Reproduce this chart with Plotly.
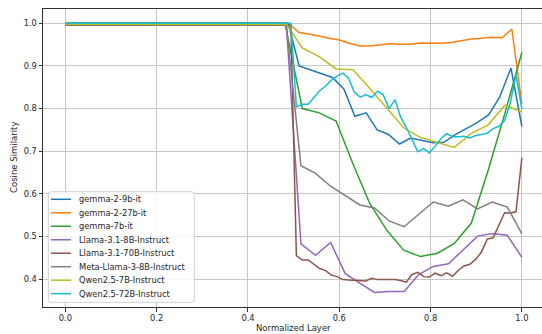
import plotly.graph_objects as go

# ---------------- data ----------------
SERIES_NAMES = [
    "gemma-2-9b-it", "gemma-2-27b-it", "gemma-7b-it", "Llama-3.1-8B-Instruct",
    "Llama-3.1-70B-Instruct", "Meta-Llama-3-8B-Instruct", "Qwen2.5-7B-Instruct",
    "Qwen2.5-72B-Instruct",
]
SERIES_COLORS = ["#1f77b4", "#ff7f0e", "#2ca02c", "#9467bd",
                 "#8c564b", "#7f7f7f", "#bcbd22", "#17becf"]

X_GEMMA2_9B = [0.0, 0.488, 0.512, 0.537, 0.561, 0.585, 0.610, 0.634, 0.659, 0.683,
               0.707, 0.732, 0.756, 0.780, 0.805, 0.829, 0.854, 0.878, 0.902, 0.927,
               0.951, 0.976, 1.0]
Y_GEMMA2_9B = [1.0, 1.0, 0.900, 0.891, 0.882, 0.873, 0.846, 0.782, 0.790, 0.750,
               0.740, 0.717, 0.731, 0.726, 0.720, 0.721, 0.739, 0.753, 0.767, 0.785,
               0.826, 0.895, 0.758]

X_GEMMA2_27B = [0.0, 0.489, 0.511, 0.533, 0.556, 0.578, 0.600, 0.622, 0.644, 0.667,
                0.689, 0.711, 0.733, 0.756, 0.778, 0.800, 0.822, 0.844, 0.867, 0.889,
                0.911, 0.933, 0.956, 0.978, 1.0]
Y_GEMMA2_27B = [1.0, 1.0, 0.979, 0.975, 0.970, 0.965, 0.961, 0.953, 0.947, 0.947,
                0.950, 0.952, 0.951, 0.951, 0.954, 0.953, 0.953, 0.955, 0.960, 0.963,
                0.965, 0.967, 0.966, 0.986, 0.810]

X_GEMMA_7B = [0.0, 0.481, 0.519, 0.556, 0.593, 0.630, 0.667, 0.704, 0.741, 0.778,
              0.815, 0.852, 0.889, 0.926, 0.963, 1.0]
Y_GEMMA_7B = [1.0, 1.0, 0.800, 0.790, 0.771, 0.670, 0.577, 0.515, 0.468, 0.453,
              0.461, 0.484, 0.531, 0.655, 0.790, 0.932]

X_LLAMA31_8B = [0.0, 0.484, 0.516, 0.548, 0.581, 0.613, 0.645, 0.677, 0.710, 0.742,
                0.774, 0.806, 0.839, 0.871, 0.903, 0.935, 0.968, 1.0]
Y_LLAMA31_8B = [0.996, 0.996, 0.483, 0.456, 0.486, 0.413, 0.391, 0.369, 0.371, 0.371,
                0.411, 0.430, 0.436, 0.468, 0.501, 0.507, 0.503, 0.451]

X_LLAMA31_70B = [0.0, 0.494, 0.506, 0.519, 0.532, 0.544, 0.557, 0.570, 0.582, 0.595,
                 0.608, 0.620, 0.633, 0.646, 0.658, 0.671, 0.684, 0.696, 0.709, 0.722,
                 0.734, 0.747, 0.759, 0.772, 0.785, 0.797, 0.810, 0.823, 0.835, 0.848,
                 0.861, 0.873, 0.886, 0.899, 0.911, 0.924, 0.937, 0.949, 0.962, 0.975,
                 0.987, 1.0]
Y_LLAMA31_70B = [0.996, 0.996, 0.455, 0.445, 0.445, 0.436, 0.425, 0.420, 0.410, 0.406,
                 0.399, 0.398, 0.397, 0.396, 0.396, 0.402, 0.399, 0.399, 0.399, 0.399,
                 0.397, 0.393, 0.411, 0.416, 0.406, 0.405, 0.414, 0.408, 0.415, 0.407,
                 0.421, 0.431, 0.435, 0.447, 0.463, 0.494, 0.497, 0.525, 0.556, 0.555,
                 0.558, 0.685]

X_LLAMA3_8B = [0.0, 0.484, 0.516, 0.548, 0.581, 0.613, 0.645, 0.677, 0.710, 0.742,
               0.774, 0.806, 0.839, 0.871, 0.903, 0.935, 0.968, 1.0]
Y_LLAMA3_8B = [0.996, 0.996, 0.666, 0.648, 0.618, 0.597, 0.574, 0.567, 0.536, 0.523,
               0.553, 0.581, 0.571, 0.586, 0.565, 0.581, 0.569, 0.506]

X_QWEN25_7B = [0.0, 0.484, 0.519, 0.556, 0.593, 0.630, 0.667, 0.704, 0.741, 0.778,
               0.815, 0.852, 0.889, 0.926, 0.963, 1.0]
Y_QWEN25_7B = [0.998, 0.998, 0.942, 0.922, 0.893, 0.891, 0.847, 0.800, 0.755, 0.732,
               0.721, 0.709, 0.742, 0.762, 0.808, 0.792]

X_QWEN25_72B = [0.0, 0.494, 0.506, 0.519, 0.532, 0.544, 0.557, 0.570, 0.582, 0.595,
                0.608, 0.620, 0.633, 0.646, 0.658, 0.671, 0.684, 0.696, 0.709, 0.722,
                0.734, 0.747, 0.759, 0.772, 0.785, 0.797, 0.810, 0.823, 0.835, 0.848,
                0.861, 0.873, 0.886, 0.899, 0.911, 0.924, 0.937, 0.949, 0.962, 0.975,
                0.987, 1.0]
Y_QWEN25_72B = [1.0, 1.0, 0.804, 0.810, 0.810, 0.826, 0.842, 0.853, 0.866, 0.876,
                0.883, 0.872, 0.838, 0.827, 0.833, 0.826, 0.841, 0.833, 0.800, 0.821,
                0.781, 0.755, 0.728, 0.699, 0.706, 0.696, 0.712, 0.730, 0.741, 0.734,
                0.734, 0.735, 0.731, 0.737, 0.739, 0.742, 0.753, 0.758, 0.772, 0.815,
                0.879, 0.798]

SERIES_X = [X_GEMMA2_9B, X_GEMMA2_27B, X_GEMMA_7B, X_LLAMA31_8B,
            X_LLAMA31_70B, X_LLAMA3_8B, X_QWEN25_7B, X_QWEN25_72B]
SERIES_Y = [Y_GEMMA2_9B, Y_GEMMA2_27B, Y_GEMMA_7B, Y_LLAMA31_8B,
            Y_LLAMA31_70B, Y_LLAMA3_8B, Y_QWEN25_7B, Y_QWEN25_72B]

X_TICKS = [0.0, 0.2, 0.4, 0.6, 0.8, 1.0]
Y_TICKS = [0.4, 0.5, 0.6, 0.7, 0.8, 0.9, 1.0]
X_TITLE = "Normalized Layer"
Y_TITLE = "Cosine Similarity"

# ---------------- figure ----------------
W, H = 542, 334
ML, MR, MT, MB = 43, 0, 9, 27
PW, PH = W - ML - MR, H - MT - MB
FONT = "DejaVu Sans"
TXT = "#262626"

fig = go.Figure()
for name, color, xs, ys in zip(SERIES_NAMES, SERIES_COLORS, SERIES_X, SERIES_Y):
    fig.add_trace(go.Scatter(x=xs, y=ys, mode="lines", name=name,
                             line=dict(color=color, width=1.5), showlegend=False))

fig.update_layout(
    width=W, height=H,
    margin=dict(l=ML, r=MR, t=MT, b=MB, pad=0),
    paper_bgcolor="white", plot_bgcolor="white",
    font=dict(family=FONT, size=8.3, color=TXT),
)
fig.update_xaxes(
    range=[-0.049, 1.044], tickvals=X_TICKS, ticktext=[f"{v:.1f}" for v in X_TICKS],
    showgrid=True, gridcolor="#c6c6c6", gridwidth=1, zeroline=False,
    showline=True, linecolor="#333333", linewidth=1, mirror=True,
    ticks="outside", ticklen=3.5, tickwidth=0.8, tickcolor="#333333",
)
fig.update_yaxes(
    range=[0.3348, 1.0335], tickvals=Y_TICKS, ticktext=[f"{v:.1f}" for v in Y_TICKS],
    showgrid=True, gridcolor="#c6c6c6", gridwidth=1, zeroline=False,
    showline=True, linecolor="#333333", linewidth=1, mirror=False,
    ticks="outside", ticklen=3.5, tickwidth=0.8, tickcolor="#333333",
)


def px_x(px):
    return (px - ML) / PW


def px_y(py):
    return (H - MB - py) / PH


# axis titles
fig.add_annotation(text=X_TITLE, xref="paper", yref="paper", x=px_x(293.5), y=px_y(327.5),
                   xanchor="center", yanchor="middle", showarrow=False,
                   font=dict(family=FONT, size=8.5, color=TXT))
fig.add_annotation(text=Y_TITLE, xref="paper", yref="paper", x=px_x(14), y=px_y(158),
                   xanchor="center", yanchor="middle", showarrow=False, textangle=-90,
                   font=dict(family=FONT, size=8.5, color=TXT))

# ---------------- legend box (compact, matplotlib-like) ----------------
L, R, T, B = 48.3, 194.3, 191.7, 302.3
r = 3.0
path = (f"M {px_x(L + r)},{px_y(T)} L {px_x(R - r)},{px_y(T)} "
        f"Q {px_x(R)},{px_y(T)} {px_x(R)},{px_y(T + r)} "
        f"L {px_x(R)},{px_y(B - r)} Q {px_x(R)},{px_y(B)} {px_x(R - r)},{px_y(B)} "
        f"L {px_x(L + r)},{px_y(B)} Q {px_x(L)},{px_y(B)} {px_x(L)},{px_y(B - r)} "
        f"L {px_x(L)},{px_y(T + r)} Q {px_x(L)},{px_y(T)} {px_x(L + r)},{px_y(T)} Z")
fig.add_shape(type="path", path=path, xref="paper", yref="paper",
              fillcolor="rgba(255,255,255,0.85)", line=dict(color="#d0d0d0", width=1))

row0, step = 199.3, 13.48
for i, (name, color) in enumerate(zip(SERIES_NAMES, SERIES_COLORS)):
    yc = row0 + i * step
    fig.add_shape(type="line", xref="paper", yref="paper",
                  x0=px_x(51), x1=px_x(71), y0=px_y(yc), y1=px_y(yc),
                  line=dict(color=color, width=1.5))
    fig.add_annotation(text=name, xref="paper", yref="paper", x=px_x(77), y=px_y(yc),
                       xanchor="left", yanchor="middle", showarrow=False,
                       font=dict(family=FONT, size=8.3, color=TXT))

fig.write_html("out.html",
               config={"displayModeBar": False},
               post_script="document.body.style.margin='0px';"
                           "document.body.style.overflow='hidden';")
